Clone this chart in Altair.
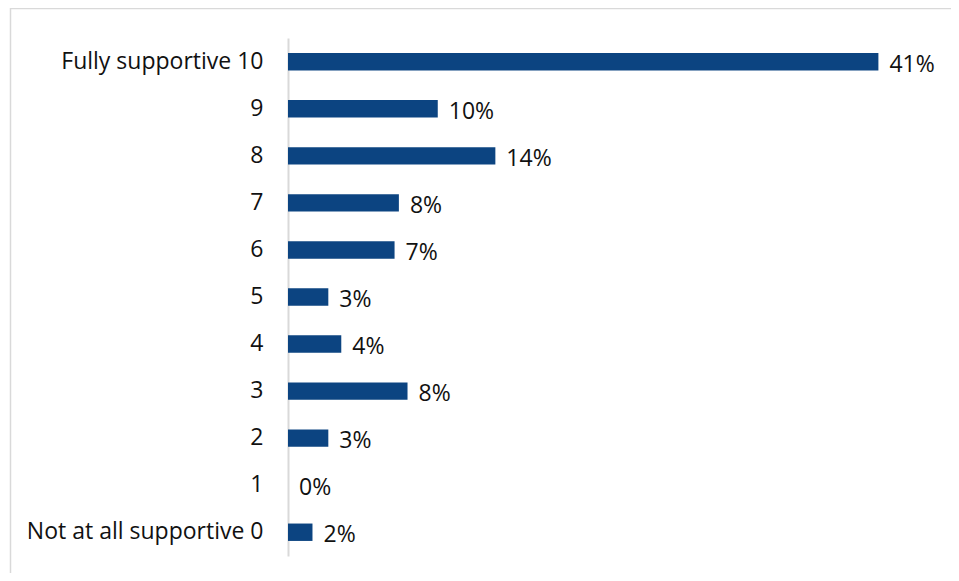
import altair as alt
import pandas as pd

categories = ["Fully supportive 10", "9", "8", "7", "6", "5", "4", "3", "2", "1",
              "Not at all supportive 0"]
values = [41.0, 10.4, 14.4, 7.7, 7.4, 2.8, 3.7, 8.3, 2.8, 0.0, 1.7]
labels = ["41%", "10%", "14%", "8%", "7%", "3%", "4%", "8%", "3%", "0%", "2%"]

df = pd.DataFrame({"cat": categories, "val": values, "lab": labels})

BAR = "#0C4481"
FONT = "Open Sans"
FS = 23

y = alt.Y("cat:N", sort=categories, title=None,
          scale=alt.Scale(paddingInner=0.63, paddingOuter=0.32),
          axis=alt.Axis(domainColor="#D9D9D9", domainWidth=2, ticks=False,
                        labelPadding=25, labelFontSize=FS, labelFont=FONT,
                        labelColor="#111111", labelLimit=300))
x = alt.X("val:Q", title=None, scale=alt.Scale(domain=[0, 45], nice=False),
          axis=None)

bars = alt.Chart(df).mark_bar(color=BAR).encode(x=x, y=y)
text = alt.Chart(df).mark_text(align="left", baseline="middle", dx=11, dy=3,
                               font=FONT, fontSize=FS, color="#111111").encode(
    x=x, y=y, text="lab:N")

frame_top = alt.Chart(alt.Data(values=[{}])).mark_rule(
    stroke="#D9D9D9", strokeWidth=1.5).encode(
    x=alt.value(-278), x2=alt.value(663), y=alt.value(-29.5))
frame_left = alt.Chart(alt.Data(values=[{}])).mark_rule(
    stroke="#D9D9D9", strokeWidth=1.5).encode(
    x=alt.value(-277.5), y=alt.value(-30), y2=alt.value(620))

chart = alt.layer(frame_top, frame_left, bars, text).properties(
    width=648, height=518,
    padding={"left": 280, "top": 30, "right": 15, "bottom": 17},
    autosize=alt.AutoSizeParams(type="none"),
    background="transparent",
).configure_view(stroke=None)

chart.save("out.html", embed_options={"renderer": "svg", "actions": False})
